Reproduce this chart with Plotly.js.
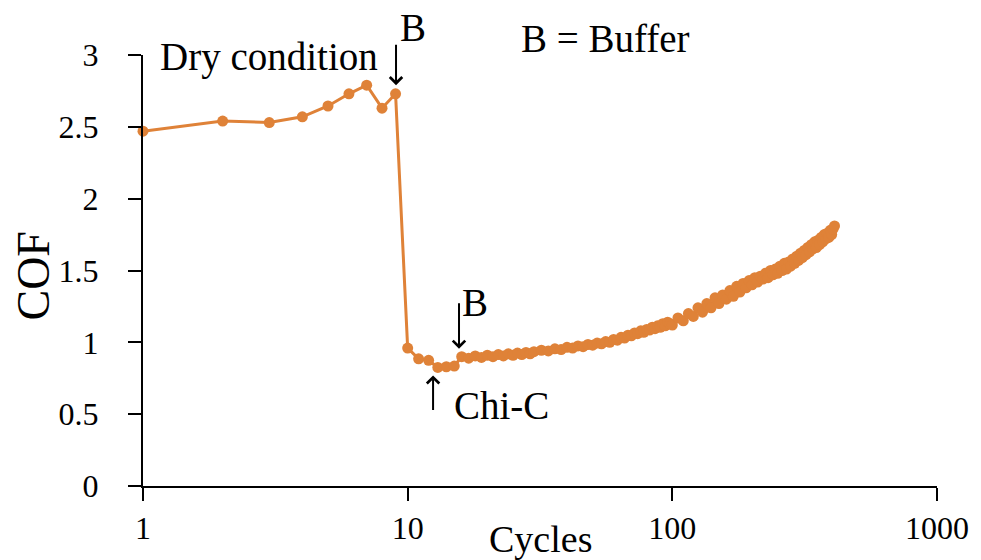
<!DOCTYPE html>
<html>
<head>
<meta charset="utf-8">
<script src="https://cdn.plot.ly/plotly-3.0.1.min.js"></script>
<style>html,body{margin:0;padding:0;background:#fff;}#chart{width:981px;height:560px;}</style>
</head>
<body>
<div id="chart"></div>
<script>
// Cycles (x) and coefficient of friction (y)
const dryCycles = [1, 2, 3, 4, 5, 6, 7, 8, 9];
const dryCOF    = [2.47, 2.54, 2.53, 2.57, 2.645, 2.73, 2.79, 2.63, 2.73];

const chiCycles = [10, 11, 12, 13, 14, 15];
const chiCOF    = [0.96, 0.885, 0.875, 0.825, 0.83, 0.835];

const bufCycles = [16, 17, 18, 19, 20, 21, 22, 23, 24, 25, 26, 27, 28, 29, 30,
  32, 34, 36, 38, 40, 42, 44, 46, 48, 50, 52, 54, 56, 58, 60,
  62, 64, 66, 68, 70, 72, 74, 76, 78, 80, 82, 84, 86, 88, 90, 92, 94, 96, 98,
  100, 105, 110, 115, 120, 125, 130, 135, 140, 145, 150, 155, 160, 165, 170, 175, 180, 185, 190, 195,
  200, 205, 210, 215, 220, 225, 230, 235, 240, 245, 250, 255, 260, 265, 270, 275, 280, 285, 290, 295,
  300, 305, 310, 315, 320, 325, 330, 335, 340, 345, 350, 355, 360, 365, 370, 375, 380, 385, 390, 395,
  400, 405, 410];
const bufCOF = [0.90, 0.89, 0.905, 0.895, 0.91, 0.90, 0.915, 0.905, 0.92, 0.91, 0.925, 0.915, 0.93, 0.92, 0.935,
  0.945, 0.94, 0.955, 0.95, 0.965, 0.96, 0.975, 0.97, 0.985, 0.98, 0.995, 0.99, 1.005, 1.00, 1.02,
  1.015, 1.035, 1.03, 1.05, 1.045, 1.065, 1.06, 1.08, 1.07, 1.09, 1.085, 1.105, 1.095, 1.115, 1.105, 1.13, 1.115, 1.14, 1.13,
  1.12, 1.17, 1.15, 1.20, 1.18, 1.24, 1.21, 1.27, 1.24, 1.31, 1.27, 1.33, 1.30, 1.36, 1.32, 1.39, 1.35, 1.41, 1.38, 1.43,
  1.40, 1.45, 1.42, 1.46, 1.44, 1.48, 1.45, 1.50, 1.47, 1.51, 1.48, 1.53, 1.50, 1.55, 1.51, 1.56, 1.53, 1.58, 1.55, 1.60,
  1.57, 1.62, 1.59, 1.64, 1.61, 1.66, 1.63, 1.68, 1.65, 1.70, 1.66, 1.71, 1.68, 1.73, 1.70, 1.75, 1.72, 1.76, 1.73, 1.78,
  1.75, 1.79, 1.81];

const xTicks = [1, 10, 100, 1000];
const xTickText = ['1', '10', '100', '1000'];
const yTicks = [0, 0.5, 1, 1.5, 2, 2.5, 3];
const yTickText = ['0', '0.5', '1', '1.5', '2', '2.5', '3'];

const orange = '#df8238';
const serif = 'Liberation Serif, Times New Roman, serif';

const allX = dryCycles.concat(chiCycles, bufCycles);
const allY = dryCOF.concat(chiCOF, bufCOF);

const trace = {
  x: allX, y: allY, type: 'scatter', mode: 'lines+markers',
  line: {color: orange, width: 3},
  marker: {color: orange, size: 11},
  cliponaxis: false, showlegend: false, hoverinfo: 'x+y'
};

const txt = (s, size) => ({text: s, font: {family: serif, size: size, color: '#000'}});
const lbl = (x, y, xref, yref, s, size, extra) =>
  Object.assign({x: x, y: y, xref: xref, yref: yref, xanchor: 'center', yanchor: 'middle', showarrow: false}, txt(s, size), extra || {});
const arrow = (x, y, ay) => ({x: x, y: y, xref: 'x', yref: 'y', ax: 0, ay: ay, text: '', showarrow: true,
  arrowhead: 4, arrowsize: 1.2, arrowwidth: 2, arrowcolor: '#000'});

const annotations = [
  lbl(0.055, 2.985, 'x', 'y', 'Dry condition', 39, {xanchor: 'left'}),
  lbl(0.340, 1.063, 'paper', 'paper', 'B', 39),
  lbl(0.583, 1.039, 'paper', 'paper', 'B = Buffer', 39),
  lbl(1.254, 1.28, 'x', 'y', 'B', 39),
  lbl(1.356, 0.56, 'x', 'y', 'Chi-C', 39),
  lbl(0.5, -0.122, 'paper', 'paper', 'Cycles', 38),
  lbl(-0.138, 0.487, 'paper', 'paper', 'COF', 46, {textangle: -90}),
  arrow(0.956, 2.79, -42),
  arrow(1.194, 0.955, -47),
  arrow(1.096, 0.77, 36)
];

const axisCommon = {
  showgrid: false, zeroline: false, showline: true, linecolor: '#000', linewidth: 2,
  ticks: 'outside', ticklen: 13, tickwidth: 2, tickcolor: '#000',
  tickfont: {family: serif, size: 32, color: '#000'}
};

const layout = {
  width: 981, height: 560,
  margin: {l: 143, r: 44, t: 55, b: 74, pad: 0},
  paper_bgcolor: '#fff', plot_bgcolor: '#fff',
  xaxis: Object.assign({}, axisCommon, {
    type: 'log', range: [0, 3], tickmode: 'array', tickvals: xTicks, ticktext: xTickText,
    ticklabelstandoff: 0
  }),
  yaxis: Object.assign({}, axisCommon, {
    range: [0, 3], tickmode: 'array', tickvals: yTicks, ticktext: yTickText,
    ticklabelstandoff: 23
  }),
  annotations: annotations
};

Plotly.newPlot('chart', [trace], layout, {displayModeBar: false, staticPlot: true});
</script>
</body>
</html>
